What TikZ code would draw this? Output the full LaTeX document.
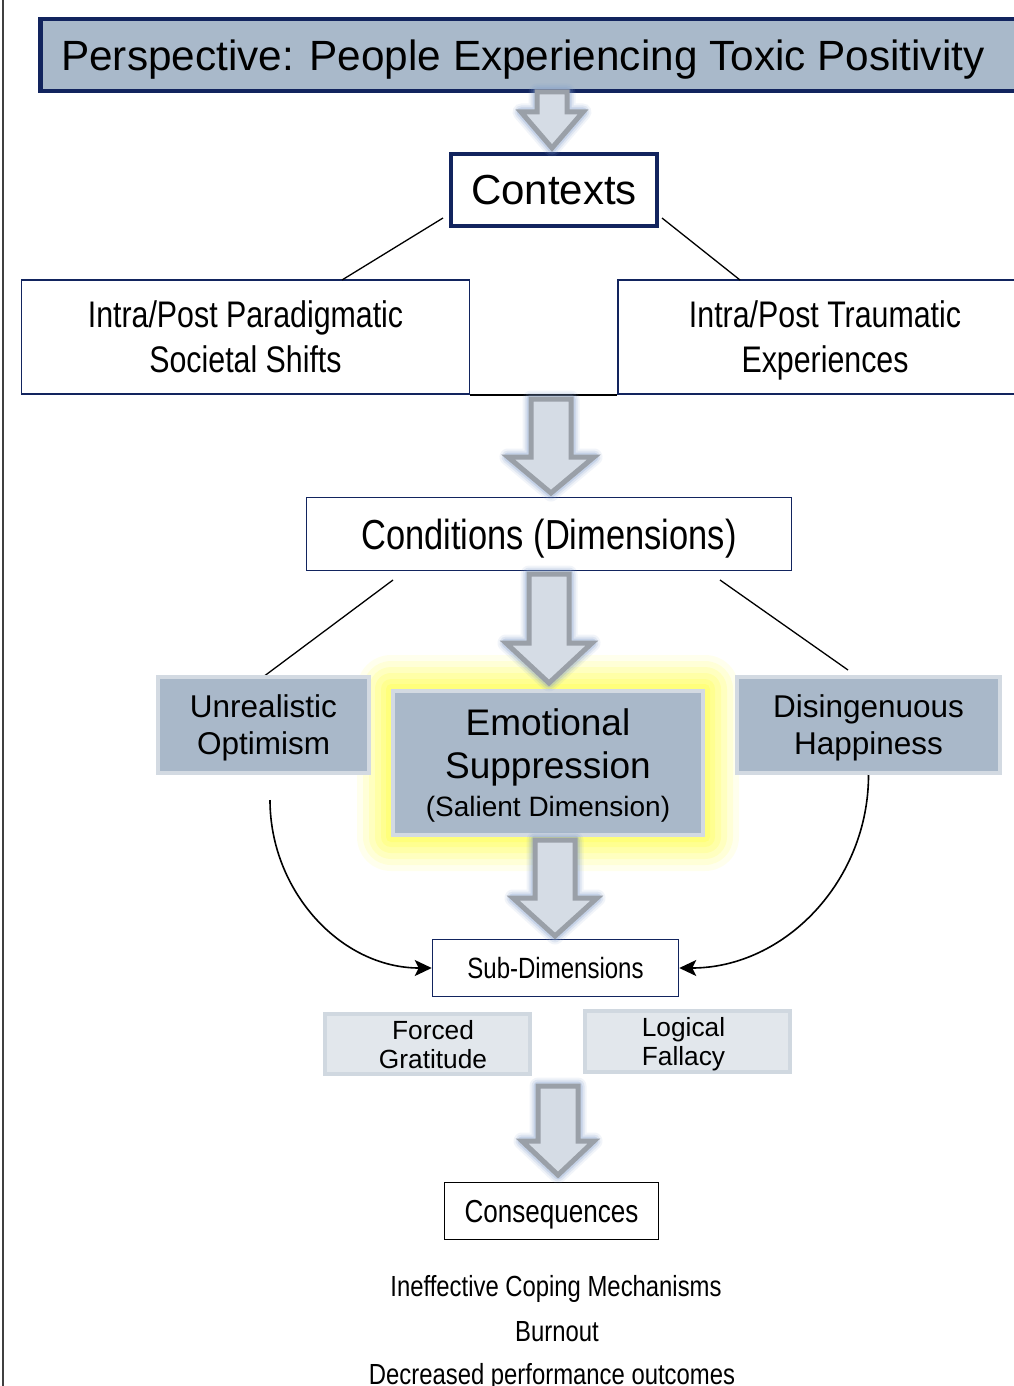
\documentclass[tikz,border=0pt]{standalone}
\usepackage{fontspec}
\setmainfont{Liberation Sans}
\newfontfamily\narrowfont[FakeStretch=0.82]{Liberation Sans}
\usetikzlibrary{arrows.meta,calc}

\definecolor{navy}{HTML}{12245E}
\definecolor{hdrfill}{HTML}{A9B9CA}
\definecolor{dimfill}{HTML}{A9B8C9}
\definecolor{dimborder}{HTML}{D3DAE2}
\definecolor{subfill}{HTML}{E2E7EC}
\definecolor{subborder}{HTML}{D0D8E0}
\definecolor{arrowfill}{HTML}{D5DCE5}
\definecolor{arrowgray}{HTML}{9AA0A8}
\definecolor{glowblue}{HTML}{7E9CCB}
\definecolor{glowyellow}{HTML}{FFFF55}

\newcommand{\blockarrow}[6]{%
  \foreach \gw/\go in {17/0.10,13/0.16,9/0.25}{%
    \draw[line width=\gw pt, glowblue, opacity=\go, line join=round]
      (#1-#4,#2) -- (#1+#4,#2) -- (#1+#4,#3-#6) -- (#1+#5,#3-#6) -- (#1,#3)
      -- (#1-#5,#3-#6) -- (#1-#4,#3-#6) -- cycle;}
  \draw[line width=5pt, arrowgray, fill=arrowfill, line join=miter]
      (#1-#4,#2) -- (#1+#4,#2) -- (#1+#4,#3-#6) -- (#1+#5,#3-#6) -- (#1,#3)
      -- (#1-#5,#3-#6) -- (#1-#4,#3-#6) -- cycle;
}

\tikzset{
  every node/.append style={text depth=0pt},
  thickbox/.style={draw=navy, line width=4pt, fill=white, inner sep=0pt, align=center},
  thinbox/.style={draw=navy, line width=1.5pt, fill=white, inner sep=0pt, align=center},
  dimbox/.style={draw=dimborder, line width=4pt, fill=dimfill, inner sep=0pt, align=center,
    font=\fontsize{31.5}{37}\selectfont},
  subbox/.style={draw=subborder, line width=4pt, fill=subfill, inner sep=0pt, align=center,
    font=\fontsize{26.3}{29}\selectfont},
  link/.style={draw=black, line width=1.3pt},
  curvearrow/.style={draw=black, line width=1.6pt, -{Stealth[length=17pt,width=16pt,inset=4pt]}},
  consline/.style={font=\narrowfont\fontsize{29.1}{34}\selectfont},
}

\begin{document}
\begin{tikzpicture}[x=1pt,y=-1pt]
\useasboundingbox (0,0) rectangle (1014,1386);
\clip (0,0) rectangle (1014,1386);
\fill[white] (0,0) rectangle (1014,1386);

% left margin line
\coordinate (ltop) at (3,0);
\coordinate (lbot) at (3,1386);
\draw[line width=1.5pt, black!75] (ltop) -- (lbot);

% header
\node (hdr) [draw=navy, line width=4.5pt, fill=hdrfill, anchor=north west,
  minimum height=72pt, inner xsep=21pt, inner ysep=0pt, text width=960pt, align=flush left,
  font=\fontsize{42.3}{48}\selectfont] at (38,17) {Perspective: People Experiencing Toxic Positivity};

% contexts
\node (ctx) [thickbox, minimum width=206pt, minimum height=72pt,
  font=\fontsize{42}{48}\selectfont] at (554,190) {Contexts};

\node (para) [thinbox, minimum width=448pt, minimum height=114pt,
  font=\narrowfont\fontsize{37}{45}\selectfont] at (245.5,337) {Intra/Post Paradigmatic\\Societal Shifts};
\node (trau) [thinbox, minimum width=414pt, minimum height=114pt,
  font=\narrowfont\fontsize{37}{45}\selectfont] at (825,337) {Intra/Post Traumatic\\Experiences};
\draw[line width=1.5pt, black] (para.south east) -- (trau.south west);

\coordinate (c1a) at (443,218); \coordinate (c1b) at (342,280);
\coordinate (c2a) at (662,218); \coordinate (c2b) at (740,280);
\draw[link] (c1a) -- (c1b);
\draw[link] (c2a) -- (c2b);

% conditions
\node (cond) [thinbox, minimum width=485pt, minimum height=73pt,
  font=\narrowfont\fontsize{42}{48}\selectfont] at (549,534) {Conditions (Dimensions)};

\coordinate (d1a) at (393,580); \coordinate (d1b) at (263,677);
\coordinate (d2a) at (720,580); \coordinate (d2b) at (848,670);
\draw[link] (d1a) -- (d1b);
\draw[link] (d2a) -- (d2b);

% yellow glow
\foreach \ge/\go in {34/0.10,28/0.14,22/0.18,16/0.22,10/0.28,5/0.35}{%
  \fill[glowyellow, opacity=\go, rounded corners=\ge pt]
    (391-\ge,689-\ge) rectangle (705+\ge,837+\ge);}

% dimensions
\node (unr) [dimbox, minimum width=211pt, minimum height=96pt] at (263.5,725) {Unrealistic\\Optimism};
\node (emo) [dimbox, minimum width=310pt, minimum height=144pt,
  font=\fontsize{37}{43}\selectfont] at (548,763)
  {Emotional\\Suppression\\[-5pt]{\fontsize{28}{32}\selectfont (Salient Dimension)}};
\node (dis) [dimbox, minimum width=263pt, minimum height=96pt] at (868.5,725) {Disingenuous\\Happiness};

% sub-dimensions
\node (sub) [thinbox, minimum width=246pt, minimum height=57pt,
  font=\narrowfont\fontsize{29.3}{34}\selectfont] at (555.5,968) {Sub-Dimensions};

\coordinate (lstart) at (270,800);
\draw[curvearrow] (lstart) to[out=-90,in=180] (sub.west);
\draw[curvearrow] (dis.south) to[out=-90,in=0] (sub.east);

\node (forced) [subbox, minimum width=205pt, minimum height=60pt] at (427.5,1044)
  {\hspace*{11pt}Forced\\\hspace*{11pt}Gratitude};
\node (logic) [subbox, minimum width=205pt, minimum height=61pt] at (687.5,1041.5)
  {Logical\hspace*{8pt}\\Fallacy\hspace*{8pt}};

% consequences
\node (cons) [draw=black, line width=1.5pt, fill=white, minimum width=214pt, minimum height=57pt,
  inner sep=0pt, font=\narrowfont\fontsize{31.8}{36}\selectfont] at (551.5,1211) {Consequences};

\node (q1) [consline] at (556,1286) {Ineffective Coping Mechanisms};
\node (q2) [consline] at (557,1331) {Burnout};
\node (q3) [consline] at (552,1374) {Decreased performance outcomes};

% block arrows
\blockarrow{552}{92}{148}{15}{31}{36}
\blockarrow{551}{399}{493}{20}{43}{36}
\blockarrow{549}{574}{683}{20}{43}{40}
\blockarrow{555}{840}{936}{20}{42}{38}
\blockarrow{558}{1086}{1175}{20}{36}{34}
\end{tikzpicture}
\end{document}
